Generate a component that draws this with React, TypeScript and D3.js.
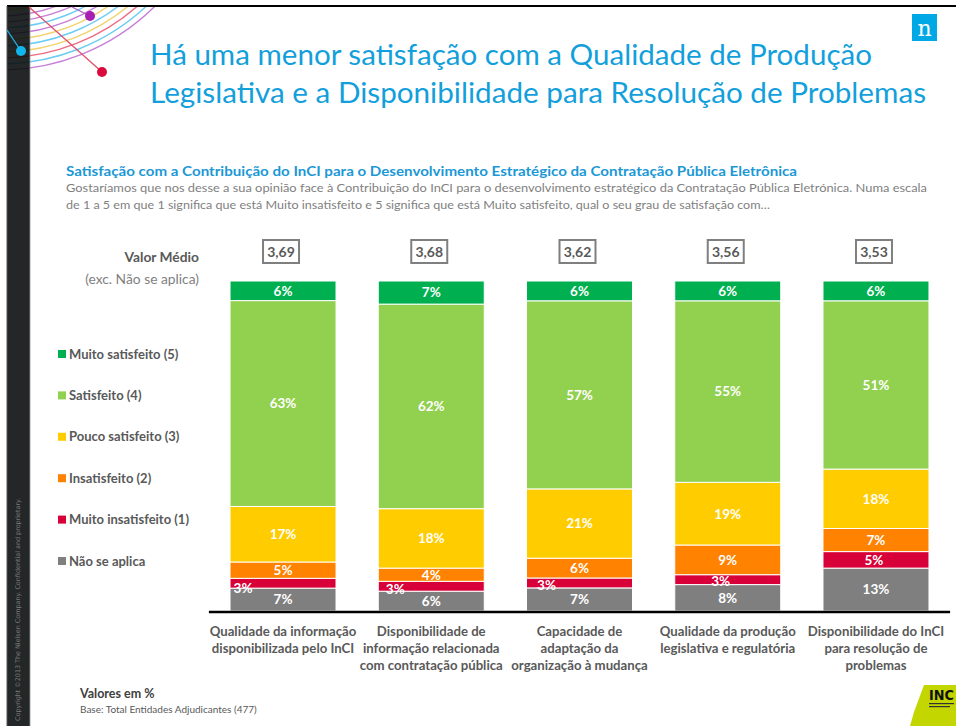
import React from "react";
import * as d3 from "d3";

// ---------- DATA ----------
const categories: string[][] = [
  ["Qualidade da informação", "disponibilizada pelo InCI"],
  ["Disponibilidade de", "informação relacionada", "com contratação pública"],
  ["Capacidade de", "adaptação da", "organização à mudança"],
  ["Qualidade da produção", "legislativa e regulatória"],
  ["Disponibilidade do InCI", "para resolução de", "problemas"],
];
const naoSeAplica = [7, 6, 7, 8, 13];
const muitoInsatisfeito = [3, 3, 3, 3, 5];
const insatisfeito = [5, 4, 6, 9, 7];
const poucoSatisfeito = [17, 18, 21, 19, 18];
const satisfeito = [63, 62, 57, 55, 51];
const muitoSatisfeito = [6, 7, 6, 6, 6];
const valorMedio = ["3,69", "3,68", "3,62", "3,56", "3,53"];

const seriesKeys = ["nsa", "mi", "ins", "ps", "sat", "ms"];
const seriesNames = [
  "Não se aplica",
  "Muito insatisfeito (1)",
  "Insatisfeito (2)",
  "Pouco satisfeito (3)",
  "Satisfeito (4)",
  "Muito satisfeito (5)",
];
const seriesColors = ["#7F7F7F", "#D80038", "#FF8200", "#FFCC00", "#92D050", "#00B050"];

const title1 = "Há uma menor satisfação com a Qualidade de Produção";
const title2 = "Legislativa e a Disponibilidade para Resolução de Problemas";
const subtitle =
  "Satisfação com a Contribuição do InCI para o Desenvolvimento Estratégico da Contratação Pública Eletrônica";
const desc1 =
  "Gostaríamos que nos desse a sua opinião face à Contribuição do InCI para o desenvolvimento estratégico da Contratação Pública Eletrónica.  Numa escala";
const desc2 =
  "de 1 a 5 em que 1 significa que está Muito insatisfeito e 5 significa que está Muito satisfeito, qual o seu grau de satisfação com…";

const arcColors = ["#F2D26A", "#C77DD6", "#C77DD6", "#6CCDF2", "#C77DD6", "#F2D26A", "#6CCDF2", "#F2D26A", "#EC6A85", "#6CCDF2", "#C77DD6"];

const FONT = "Lato, 'Open Sans', sans-serif";

export default function App() {
  const W = 956;
  const H = 726;

  const rows = categories.map((c, i) => ({
    idx: i,
    nsa: naoSeAplica[i],
    mi: muitoInsatisfeito[i],
    ins: insatisfeito[i],
    ps: poucoSatisfeito[i],
    sat: satisfeito[i],
    ms: muitoSatisfeito[i],
  }));

  const stack = d3.stack<any>().keys(seriesKeys).offset(d3.stackOffsetExpand);
  const stacked = stack(rows as any);

  const x = d3
    .scaleBand<number>()
    .domain(rows.map((r) => r.idx))
    .range([208.9, 950.1])
    .paddingInner(0.285)
    .paddingOuter(0.1425);
  const y = d3.scaleLinear().domain([0, 1]).range([611, 281]);

  const legendY = d3.scalePoint<number>().domain([5, 4, 3, 2, 1, 0]).range([354, 561]);

  // label nudges for the thin red segments (as placed in the original)
  const redNudge = [
    [-40, 5],
    [-36, 3],
    [-33, 2],
    [-7, 1],
    [-2, 0],
  ];

  // decorative arcs
  const arcCx = 0;
  const arcCy = -150;
  const arcRadii = d3.range(160, 221, 6);

  return (
    <svg
      width={W}
      height={H}
      viewBox={`0 0 ${W} ${H}`}
      style={{ position: "absolute", left: 0, top: 0, background: "#fff" }}
      fontFamily={FONT}
    >
      <defs>
        <clipPath id="pageClip">
          <rect x={7} y={7} width={W - 7} height={H - 7} />
        </clipPath>
      </defs>
      <rect x={0} y={0} width={W} height={H} fill="#fff" />

      {/* decorative arcs */}
      <g clipPath="url(#pageClip)">
        {arcRadii.map((r, i) => (
          <circle
            key={i}
            cx={arcCx}
            cy={arcCy}
            r={r}
            fill="none"
            stroke={arcColors[i % arcColors.length]}
            strokeWidth={1.4}
          />
        ))}
      </g>
      {/* black side band */}
      <rect x={7} y={7} width={23} height={H - 7} fill="#040909" opacity={0.88} />
      <line x1={30} y1={7} x2={30} y2={H} stroke="#9a9a9a" strokeWidth={0.8} />
      <line x1={7} y1={6} x2={W} y2={6} stroke="#000" strokeWidth={2} />
      <line x1={7} y1={6} x2={7} y2={H} stroke="#555" strokeWidth={1} />

      {/* dots & pins */}
      <line x1={29} y1={7} x2={102} y2={72} stroke="#E0506E" strokeWidth={1.3} />
      <line x1={72} y1={7} x2={90} y2={16} stroke="#B05FC8" strokeWidth={1.3} />
      <line x1={7} y1={30} x2={21} y2={51} stroke="#20B5E8" strokeWidth={1.3} />
      <circle cx={90} cy={16} r={5} fill="#A81FB3" />
      <circle cx={21} cy={51} r={5} fill="#12B4EC" />
      <circle cx={102} cy={72} r={5} fill="#DA0A3C" />

      {/* copyright */}
      <text
        transform="translate(20,721) rotate(-90)"
        fontSize={6.5}
        fill="#7a7a7a"
        fontFamily="'DejaVu Sans', sans-serif"
        textLength={223}
        lengthAdjust="spacingAndGlyphs"
      >
        Copyright ©2013 The Nielsen Company. Confidential and proprietary.
      </text>

      {/* nielsen logo */}
      <rect x={912} y={14} width={25} height={27} fill="#00A9E6" />
      <text x={924.5} y={36} textAnchor="middle" fontSize={22} fill="#fff" fontFamily="'DejaVu Serif', serif">
        n
      </text>

      {/* titles */}
      <text x={150} y={65} fontSize={28} fill="#139FDB" textLength={722} lengthAdjust="spacingAndGlyphs">
        {title1}
      </text>
      <text x={150} y={103} fontSize={28} fill="#139FDB" textLength={776} lengthAdjust="spacingAndGlyphs">
        {title2}
      </text>
      <text x={66} y={176} fontSize={13.5} fontWeight="bold" fill="#1B98D5" textLength={731} lengthAdjust="spacingAndGlyphs">
        {subtitle}
      </text>
      <text x={66} y={192} fontSize={12} fill="#7F7F7F" textLength={861} lengthAdjust="spacingAndGlyphs">
        {desc1}
      </text>
      <text x={66} y={209} fontSize={12} fill="#7F7F7F" textLength={704} lengthAdjust="spacingAndGlyphs">
        {desc2}
      </text>

      {/* valor medio header */}
      <text x={199} y={262} textAnchor="end" fontSize={13.8} fontWeight="bold" fill="#595959">
        Valor Médio
      </text>
      <text x={199} y={284} textAnchor="end" fontSize={13.8} fill="#7F7F7F">
        (exc. Não se aplica)
      </text>

      {/* legend */}
      {seriesNames.map((name, i) => (
        <g key={name} transform={`translate(58,${legendY(i)})`}>
          <rect x={0} y={-4} width={8} height={8} fill={seriesColors[i]} />
          <text x={11} y={0} dy="0.35em" fontSize={13} fontWeight="bold" fill="#595959">
            {name}
          </text>
        </g>
      ))}

      {/* bars */}
      {stacked.map((s, si) => (
        <g key={s.key}>
          {s.map((d: any, i: number) => (
            <rect
              key={i}
              x={x(i)!}
              y={y(d[1])}
              width={x.bandwidth()}
              height={y(d[0]) - y(d[1])}
              fill={seriesColors[si]}
              stroke="#fff"
              strokeWidth={1}
            />
          ))}
        </g>
      ))}
      {/* segment labels */}
      {stacked.map((s, si) => (
        <g key={"l" + s.key}>
          {s.map((d: any, i: number) => {
            const v = (d.data as any)[s.key];
            const cx = x(i)! + x.bandwidth() / 2;
            const cy = (y(d[0]) + y(d[1])) / 2;
            const nud = si === 1 ? redNudge[i] : [0, 0];
            return (
              <text
                key={i}
                x={cx + nud[0]}
                y={cy + nud[1]}
                dy="0.36em"
                textAnchor="middle"
                fontSize={13.5}
                fontWeight="bold"
                fill="#fff"
              >
                {v}%
              </text>
            );
          })}
        </g>
      ))}

      {/* baseline */}
      <line x1={x.range()[0]} x2={x.range()[1]} y1={612} y2={612} stroke="#000" strokeWidth={2.5} />

      {/* value boxes */}
      {valorMedio.map((v, i) => {
        const cx = x(i)! + x.bandwidth() / 2 - 2;
        return (
          <g key={v + i}>
            <rect x={cx - 18} y={240} width={36} height={23} fill="#fff" stroke="#7F7F7F" strokeWidth={2} />
            <text x={cx} y={251.5} dy="0.36em" textAnchor="middle" fontSize={14} fontWeight="bold" fill="#595959">
              {v}
            </text>
          </g>
        );
      })}

      {/* category labels */}
      {categories.map((lines, i) => (
        <text key={i} textAnchor="middle" fontSize={13.2} fontWeight="bold" fill="#595959">
          {lines.map((l, j) => (
            <tspan key={j} x={x(i)! + x.bandwidth() / 2} y={636 + j * 17}>
              {l}
            </tspan>
          ))}
        </text>
      ))}

      {/* footer */}
      <text x={80} y={698} fontSize={12.5} fontWeight="bold" fill="#404040">
        Valores em %
      </text>
      <text x={80} y={713} fontSize={10} fill="#595959">
        Base: Total Entidades Adjudicantes (477)
      </text>

      {/* INC logo */}
      <polygon points="924,685 956,685 956,726 910,726 914,712" fill="#C4D600" />
      <text x={929} y={700} fontSize={14} fontWeight="900" fill="#111" fontFamily="'DejaVu Sans', sans-serif" textLength={25} lengthAdjust="spacingAndGlyphs">
        INC
      </text>
      <rect x={929} y={703} width={25} height={1.2} fill="#333" />
      <rect x={929} y={706} width={21} height={1.2} fill="#333" />
    </svg>
  );
}
